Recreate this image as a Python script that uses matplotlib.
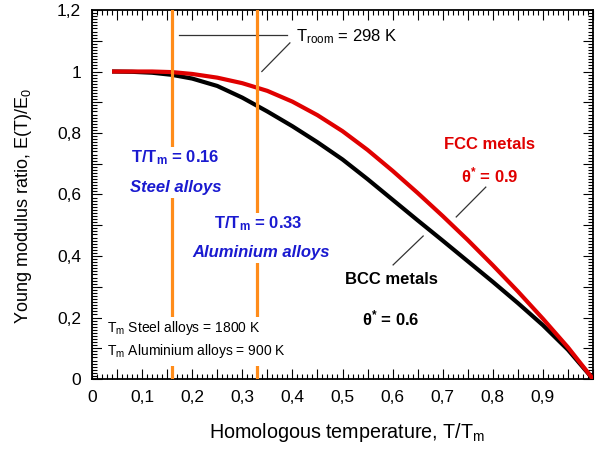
import matplotlib
matplotlib.use("Agg")
import matplotlib.pyplot as plt
from matplotlib.ticker import MultipleLocator, FuncFormatter
from matplotlib.patches import Rectangle

plt.rcParams['font.family'] = ['Liberation Sans', 'DejaVu Sans']
plt.rcParams['mathtext.fontset'] = 'custom'
plt.rcParams['mathtext.rm'] = 'Liberation Sans'
plt.rcParams['mathtext.it'] = 'Liberation Sans:italic'
plt.rcParams['mathtext.bf'] = 'Liberation Sans:bold'

# Data
t_ratio = [0.04, 0.08, 0.12, 0.16, 0.20, 0.25, 0.30, 0.35, 0.40, 0.45, 0.50,
           0.55, 0.60, 0.65, 0.70, 0.75, 0.80, 0.85, 0.90, 0.95, 1.00]
bcc_ratio = [1.000, 0.999, 0.996, 0.989, 0.977, 0.953, 0.915, 0.870, 0.822, 0.770, 0.714,
             0.650, 0.583, 0.516, 0.450, 0.383, 0.316, 0.247, 0.175, 0.095, 0.0]
fcc_ratio = [1.000, 1.000, 1.000, 0.998, 0.992, 0.980, 0.962, 0.937, 0.902, 0.858, 0.806,
             0.745, 0.677, 0.605, 0.530, 0.452, 0.370, 0.285, 0.196, 0.103, 0.0]
room_temp_ratios = [0.16, 0.33]

fig = plt.figure(figsize=(5.95, 4.54), dpi=100)
ax = fig.add_axes([92/595, 1-379/454, 501/595, 369/454])

RED = '#e00000'
BLUE = '#1a1ad0'
ORANGE = '#ff8c1a'

ax.plot(t_ratio, bcc_ratio, color='black', lw=3, zorder=3, solid_capstyle='butt', solid_joinstyle='round')
ax.plot(t_ratio, fcc_ratio, color=RED, lw=3, zorder=3, solid_capstyle='butt', solid_joinstyle='round')
for xv in room_temp_ratios:
    ax.axvline(xv, color=ORANGE, lw=2.3, zorder=4)

# white boxes behind labels (cut the orange lines)
for (x0, y0, w, h) in [(0.07, 0.589, 0.20, 0.165), (0.19, 0.377, 0.29, 0.163),
                       (0.02, 0.042, 0.38, 0.16)]:
    ax.add_patch(Rectangle((x0, y0), w, h, facecolor='white', edgecolor='none', zorder=5))

# annotation lines
lc = '#333333'
ax.plot([0.174, 0.389], [1.119, 1.119], color=lc, lw=0.9, zorder=3.5)
ax.plot([0.395, 0.339], [1.093, 1.0], color=lc, lw=0.9, zorder=3.5)
ax.plot([0.786, 0.727], [0.624, 0.527], color=lc, lw=0.9, zorder=3.5)
ax.plot([0.661, 0.601], [0.465, 0.371], color=lc, lw=0.9, zorder=3.5)

ax.text(0.408, 1.112, r'T$_{\mathregular{room}}$ = 298 K', fontsize=12, ha='left', va='center', zorder=6)
ax.text(0.794, 0.761, 'FCC metals', color=RED, fontsize=12, fontweight='bold', ha='center', va='center', zorder=6)
ax.text(0.794, 0.663, r'θ$^{\mathregular{*}}$ = 0.9', color=RED, fontsize=12, fontweight='bold', ha='center', va='center', zorder=6)
ax.text(0.597, 0.325, 'BCC metals', color='black', fontsize=12, fontweight='bold', ha='center', va='center', zorder=6)
ax.text(0.597, 0.198, r'θ$^{\mathregular{*}}$ = 0.6', color='black', fontsize=12, fontweight='bold', ha='center', va='center', zorder=6)

ax.text(0.166, 0.719, r'T/T$_{\mathregular{m}}$ = 0.16', color=BLUE, fontsize=12, fontweight='bold', ha='center', va='center', zorder=6)
ax.text(0.168, 0.624, 'Steel alloys', color=BLUE, fontsize=12, fontweight='bold', style='italic', ha='center', va='center', zorder=6)
ax.text(0.331, 0.504, r'T/T$_{\mathregular{m}}$ = 0.33', color=BLUE, fontsize=12, fontweight='bold', ha='center', va='center', zorder=6)
ax.text(0.337, 0.41, 'Aluminium alloys', color=BLUE, fontsize=12, fontweight='bold', style='italic', ha='center', va='center', zorder=6)

ax.text(0.03, 0.165, r'T$_{\mathregular{m}}$ Steel alloys = 1800 K', fontsize=10, ha='left', va='center', zorder=6)
ax.text(0.03, 0.09, r'T$_{\mathregular{m}}$ Aluminium alloys = 900 K', fontsize=10, ha='left', va='center', zorder=6)

ax.set_xlim(0, 1)
ax.set_ylim(0, 1.2)

def fmt(v):
    s = ('%.1f' % v).rstrip('0').rstrip('.')
    return s.replace('.', ',')

ax.xaxis.set_major_locator(MultipleLocator(0.05))
ax.xaxis.set_minor_locator(MultipleLocator(0.01))
ax.yaxis.set_major_locator(MultipleLocator(0.1))
ax.yaxis.set_minor_locator(MultipleLocator(0.01))
ax.xaxis.set_major_formatter(FuncFormatter(
    lambda v, p: fmt(v) if (round(v * 100) % 10 == 0 and v < 0.95) else ''))
ax.yaxis.set_major_formatter(FuncFormatter(
    lambda v, p: fmt(v) if round(v * 10) % 2 == 0 else ''))

ax.tick_params(which='both', direction='in', top=True, right=True, width=0.8, labelsize=12.5)
ax.tick_params(which='major', length=7, pad=8)
ax.tick_params(which='minor', length=3.5)
for sp in ax.spines.values():
    sp.set_linewidth(1.3)

fig.text(347/595, 1-432/454, r'Homologous temperature, T/T$_{\mathregular{m}}$', fontsize=14.2, ha='center', va='center')
fig.text(24/595, 1-206/454, r'Young modulus ratio, E(T)/E$_{\mathregular{0}}$', fontsize=13,
         ha='center', va='center', rotation=90)

fig.savefig('out.png', dpi=100)
